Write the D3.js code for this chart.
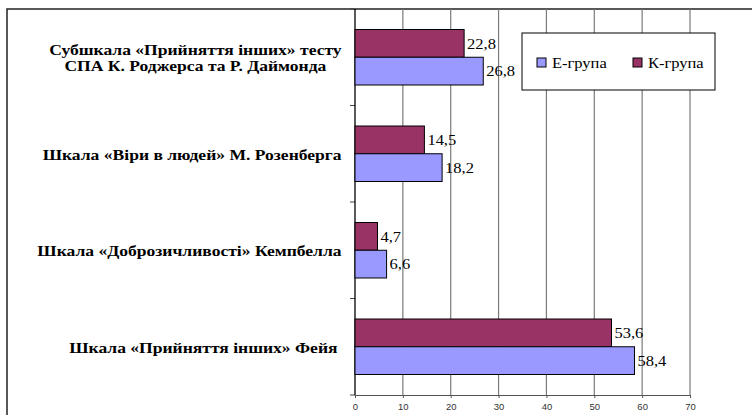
<!DOCTYPE html>
<html>
<head>
<meta charset="utf-8">
<script src="https://cdn.jsdelivr.net/npm/d3@7"></script>
<style>
  html, body { margin: 0; padding: 0; background: #fff; }
  svg { display: block; }
  .serif { font-family: "Liberation Serif", "Times New Roman", "DejaVu Serif", serif; }
  .sans { font-family: "Liberation Sans", Arial, sans-serif; }
</style>
</head>
<body>
<svg id="chart" width="752" height="415"></svg>
<script>
// ---- data ----
const categories = [
  ["Субшкала «Прийняття інших» тесту", "СПА К. Роджерса та Р. Даймонда"],
  ["Шкала «Віри в людей» М. Розенберга"],
  ["Шкала «Доброзичливості» Кемпбелла"],
  ["Шкала «Прийняття інших» Фейя "]
];
const seriesNames = ["К-група", "Е-група"];
const eGroup = [26.8, 18.2, 6.6, 58.4];
const kGroup = [22.8, 14.5, 4.7, 53.6];
const xTicks = [0, 10, 20, 30, 40, 50, 60, 70];
const colors = { "Е-група": "#9999FF", "К-група": "#993366" };

const svg = d3.select("#chart");
const plot = { left: 355, right: 690, top: 9, bottom: 395 };
const SX = 1.1; // horizontal stretch of text seen in the reference

// outer frame (extends beyond view to right/bottom)
svg.append("rect")
  .attr("x", 7).attr("y", 9).attr("width", 800).attr("height", 500)
  .attr("fill", "#fff").attr("stroke", "#222").attr("stroke-width", 1.5);

const x = d3.scaleLinear().domain([0, 70]).range([plot.left, plot.right]);
const catIdx = categories.map((d, i) => i);
const y = d3.scaleBand().domain(catIdx).range([plot.top, plot.bottom]).padding(0);
const ySub = d3.scaleBand().domain(seriesNames).range([0, y.bandwidth()])
  .paddingInner(0).paddingOuter(0.739);

// gridlines
svg.append("g").selectAll("line").data(xTicks.filter(d => d > 0)).join("line")
  .attr("x1", d => x(d)).attr("x2", d => x(d))
  .attr("y1", plot.top).attr("y2", plot.bottom)
  .attr("stroke", "#7a7a7a").attr("stroke-width", 1.2);

// x axis
const xAxis = svg.append("g").attr("transform", `translate(0,${plot.bottom})`)
  .call(d3.axisBottom(x).tickValues(xTicks).tickSize(3).tickPadding(5).tickSizeOuter(0));
xAxis.attr("font-family", null);
xAxis.select(".domain").attr("stroke", "#555").attr("stroke-width", 1.2);
xAxis.selectAll(".tick line").attr("stroke", "#555");
xAxis.selectAll("text").attr("class", "sans")
  .attr("font-size", 9.5).attr("fill", "#333");

// y axis (ticks only at category boundaries)
const bounds = d3.range(categories.length + 1).map(i => plot.top + i * y.step());
svg.append("g").selectAll("line").data(bounds).join("line")
  .attr("x1", plot.left - 5).attr("x2", plot.left)
  .attr("y1", d => d).attr("y2", d => d)
  .attr("stroke", "#444").attr("stroke-width", 1);
svg.append("line")
  .attr("x1", plot.left).attr("x2", plot.left)
  .attr("y1", plot.top).attr("y2", plot.bottom)
  .attr("stroke", "#000").attr("stroke-width", 1.3);

// bars
const rows = [];
categories.forEach((c, i) => {
  rows.push({ cat: i, series: "К-група", value: kGroup[i] });
  rows.push({ cat: i, series: "Е-група", value: eGroup[i] });
});
svg.append("g").selectAll("rect").data(rows).join("rect")
  .attr("x", x(0))
  .attr("y", d => y(d.cat) + ySub(d.series))
  .attr("width", d => x(d.value) - x(0))
  .attr("height", ySub.bandwidth())
  .attr("fill", d => colors[d.series])
  .attr("stroke", "#000").attr("stroke-width", 1);

// value labels
svg.append("g").selectAll("text").data(rows).join("text")
  .attr("class", "serif")
  .attr("transform", d => `translate(${x(d.value) + 3},${y(d.cat) + ySub(d.series) + ySub.bandwidth() / 2}) scale(${SX},1)`)
  .attr("dy", "0.35em")
  .attr("font-size", 15).attr("fill", "#000")
  .text(d => String(d.value).replace(".", ","));

// category labels
const catG = svg.append("g");
categories.forEach((lines, i) => {
  const cy = y(i) + y.bandwidth() / 2 + 0.5;
  const lh = 16.5;
  const g = catG.append("g");
  const t = g.append("text").attr("class", "serif")
    .attr("font-weight", "bold").attr("font-size", 15.5)
    .attr("fill", "#000").style("white-space", "pre");
  const n = lines.length;
  lines.forEach((ln, j) => {
    t.append("tspan").attr("x", 0).attr("y", cy + (j - (n - 1) / 2) * lh)
      .attr("dy", "0.35em").attr("text-anchor", "middle").text(ln);
  });
  const bb = t.node().getBBox();
  const tx = 342 - SX * 1.03 * (bb.x + bb.width);
  g.attr("transform", `translate(${tx},0) scale(${SX * 1.03},1)`);
});

// legend
const lg = svg.append("g");
lg.append("rect").attr("x", 522).attr("y", 33).attr("width", 193).attr("height", 57)
  .attr("fill", "#fff").attr("stroke", "#000").attr("stroke-width", 1);
const legendItems = [
  { name: "Е-група", x: 537 },
  { name: "К-група", x: 633 }
];
legendItems.forEach(it => {
  lg.append("rect").attr("x", it.x).attr("y", 58).attr("width", 9).attr("height", 9)
    .attr("fill", colors[it.name]).attr("stroke", "#000").attr("stroke-width", 1);
  lg.append("text").attr("class", "serif")
    .attr("transform", `translate(${it.x + 15},62.5) scale(${SX},1)`)
    .attr("dy", "0.35em")
    .attr("font-size", 15).attr("fill", "#000").text(it.name);
});
</script>
</body>
</html>
